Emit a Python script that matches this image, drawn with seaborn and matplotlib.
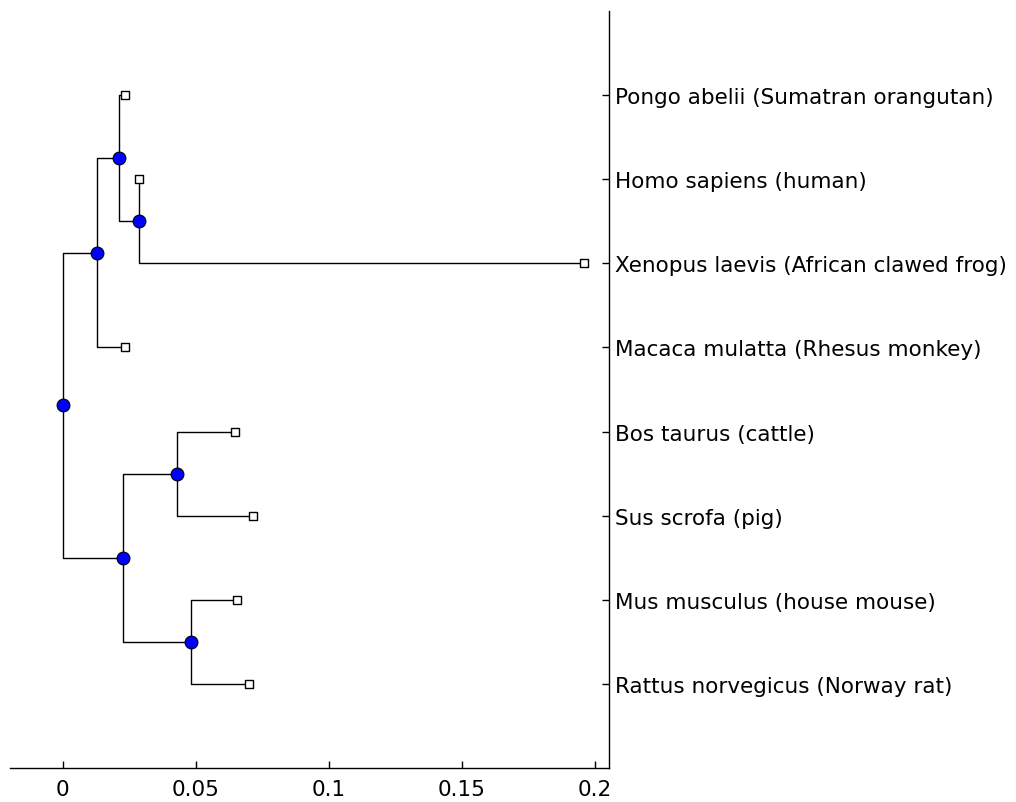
import numpy as np
import pandas as pd
import seaborn as sns
import matplotlib.pyplot as plt

# leaves, top to bottom, with distance from the root
leaf_names = ['Pongo abelii (Sumatran orangutan)', 'Homo sapiens (human)',
              'Xenopus laevis (African clawed frog)', 'Macaca mulatta (Rhesus monkey)',
              'Bos taurus (cattle)', 'Sus scrofa (pig)',
              'Mus musculus (house mouse)', 'Rattus norvegicus (Norway rat)']
leaf_dist = [0.0233, 0.0286, 0.1959, 0.0233, 0.0647, 0.0714, 0.0654, 0.0699]

# internal nodes (children refer to leaf index or branch name)
branch_names = ['B', 'A', 'C', 'D', 'F', 'E', 'root']
branch_children = [(1, 2), (0, 'B'), ('A', 3), (4, 5), (6, 7), ('D', 'F'), ('C', 'E')]
branch_dist = [0.0286, 0.0211, 0.0128, 0.0429, 0.0481, 0.0226, 0.0]

x_ticks = [0, 0.05, 0.1, 0.15, 0.2]
x_tick_labels = ['0', '0.05', '0.1', '0.15', '0.2']

n = len(leaf_names)
pos = {}
for i, d in enumerate(leaf_dist):
    pos[i] = (d, n - i)
for name, kids, d in zip(branch_names, branch_children, branch_dist):
    ys = [pos[k][1] for k in kids]
    pos[name] = (d, np.mean(ys))

rows = []
seg = 0
for name, kids in zip(branch_names, branch_children):
    px, py = pos[name]
    for k in kids:
        cx, cy = pos[k]
        rows += [(seg, 0, px, py), (seg, 1, px, cy), (seg, 2, cx, cy)]
        seg += 1
edges = pd.DataFrame(rows, columns=['seg', 'order', 'x', 'y'])

leaves = pd.DataFrame({'x': leaf_dist, 'y': [pos[i][1] for i in range(n)]})
nodes = pd.DataFrame({'x': [pos[b][0] for b in branch_names],
                      'y': [pos[b][1] for b in branch_names]})

sns.set_style('white')
plt.rcParams['font.family'] = ['DejaVu Sans']

fig = plt.figure(figsize=(10.16, 8.03), dpi=100)
ax = fig.add_axes([0.0098, 0.0423, 0.5896, 0.9427])

sns.lineplot(edges, x='x', y='y', units='seg', estimator=None, sort=False,
             color='black', lw=1.0, ax=ax, zorder=1)
sns.scatterplot(nodes, x='x', y='y', marker='o', s=85, color='#0000ff',
                edgecolor='black', linewidth=0.8, ax=ax, zorder=3)
sns.scatterplot(leaves, x='x', y='y', marker='s', s=40, color='white',
                edgecolor='black', linewidth=1.0, ax=ax, zorder=3)

ax.set_xlim(-0.0199, 0.2053)
ax.set_ylim(0, n + 1)
ax.set_xticks(x_ticks)
ax.set_xticklabels(x_tick_labels)
ax.set_yticks([pos[i][1] for i in range(n)])
ax.set_yticklabels(leaf_names)
ax.set_xlabel('')
ax.set_ylabel('')
for side in ('top', 'left'):
    ax.spines[side].set_visible(False)
for side in ('bottom', 'right'):
    ax.spines[side].set_color('black')
    ax.spines[side].set_linewidth(1.0)
ax.tick_params(axis='x', bottom=True, top=False, direction='in', pad=8)
ax.tick_params(axis='y', left=False, labelleft=False, right=True, labelright=True,
               direction='in', pad=4)
ax.tick_params(axis='both', length=5, width=1.0, color='black',
               labelsize=15.5, labelcolor='black')

plt.savefig('out.png', dpi=100)
